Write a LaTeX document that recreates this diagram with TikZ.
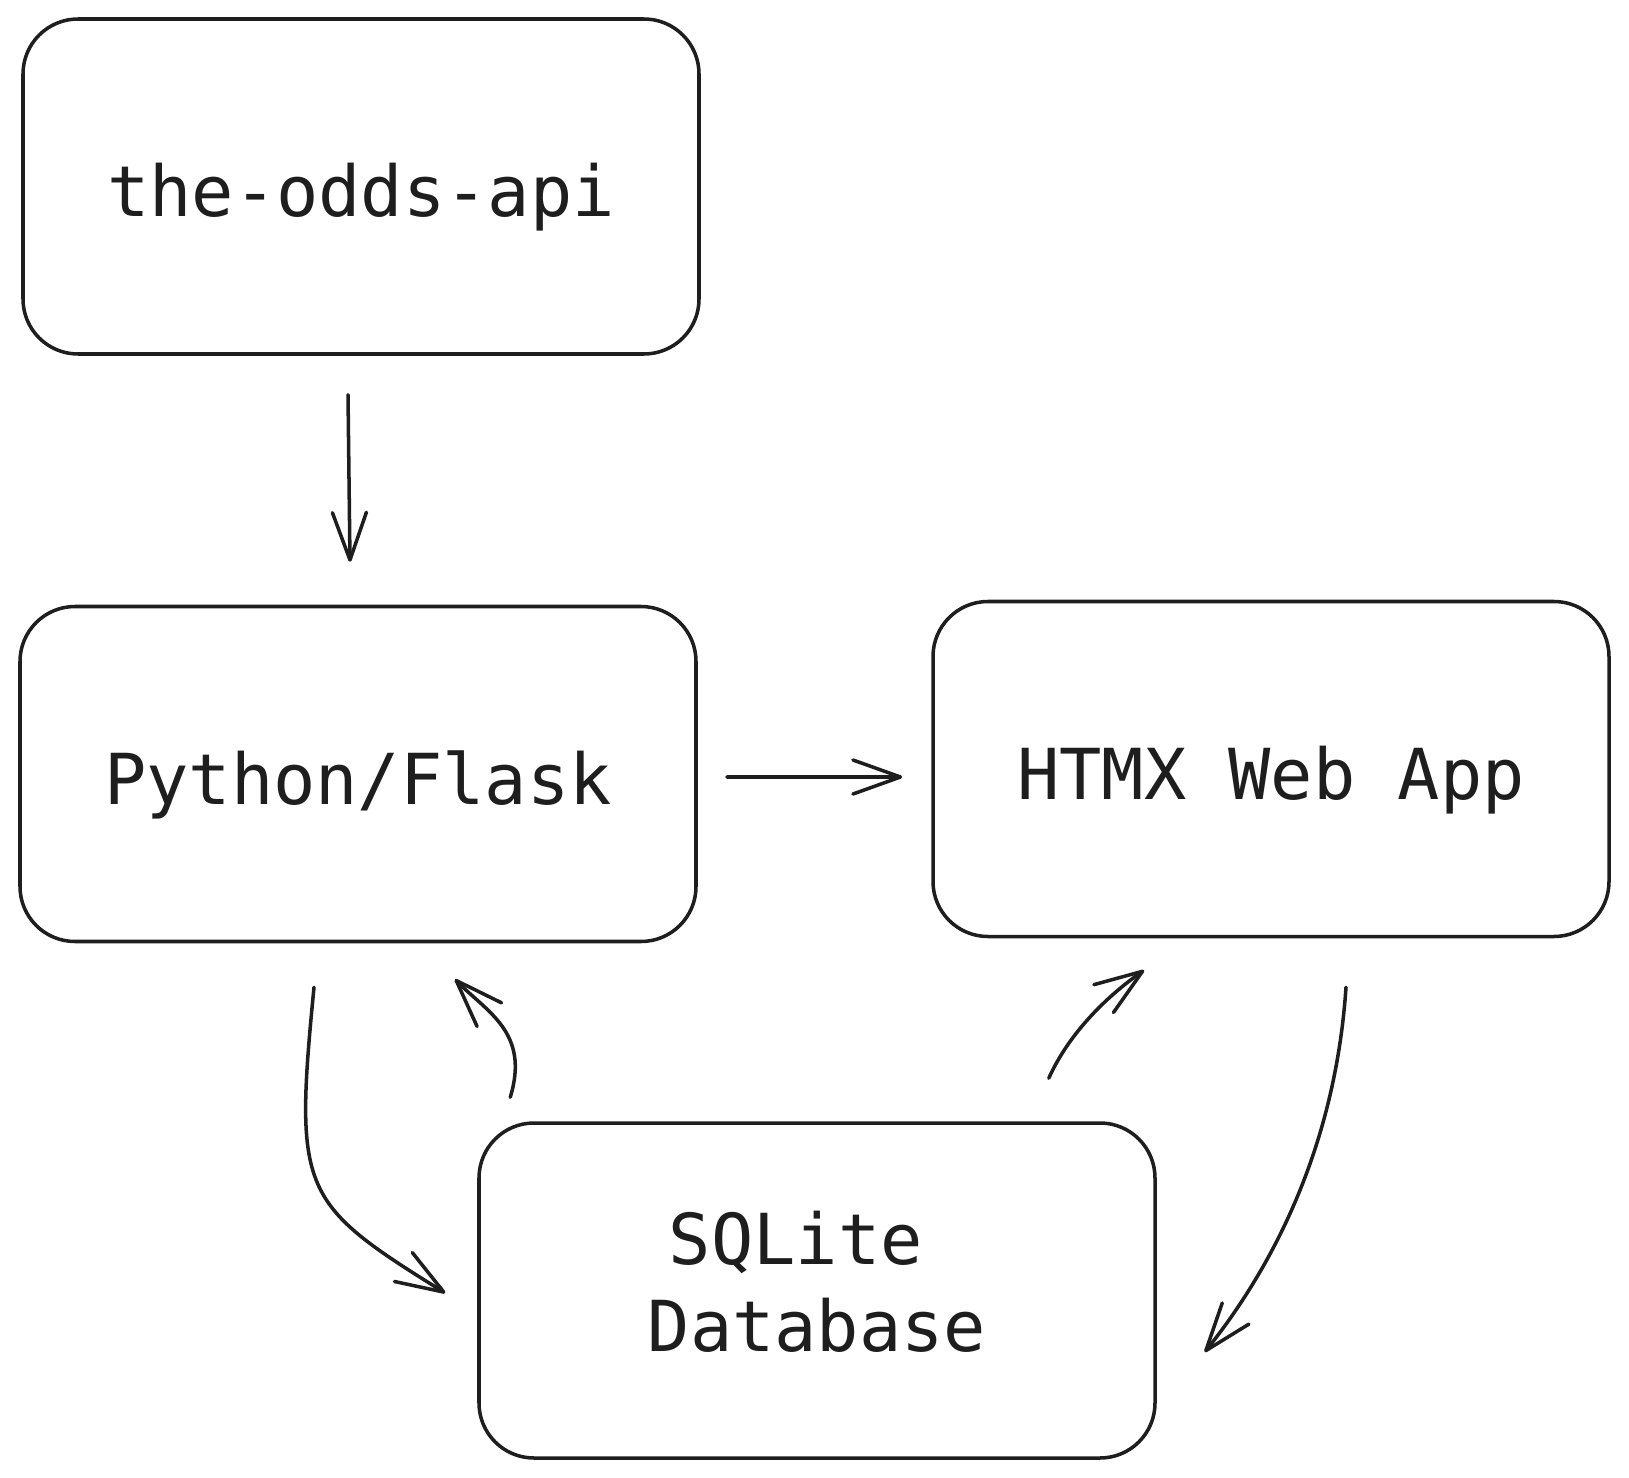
\documentclass[tikz,border=0pt]{standalone}
\usepackage{fontspec}
\setmonofont{DejaVu Sans Mono}
\usetikzlibrary{positioning, arrows.meta, calc}
\definecolor{ink}{HTML}{1E1E1E}

\begin{document}
\begin{tikzpicture}[
	box/.style={rectangle, draw=ink, line width=2pt, rounded corners=1.1cm, text=ink,
		minimum width=13.52cm, minimum height=6.7cm, inner sep=0pt,
		font=\ttfamily\fontsize{40}{49}\selectfont, text height=1.2cm, text depth=0cm},
	link/.style={draw=ink, line width=2pt, line cap=round,
		-{Straight Barb[length=0.95cm, width=0.68cm, round]}}
	]
	\useasboundingbox (0,0) rectangle (32.58,-29.56);
	
	%Nodes
	\node (oddsApi) at (7.22,-3.73) [box] {the-odds-api};
	
	\node (pythonFlask) at (7.16,-15.48) [box] {Python/Flask};
	
	\node (htmxApp) at (25.42,-15.38) [box] {HTMX Web App};
	
	\node (sqliteDb) at (16.34,-25.81) [box, align=center, text height=2.42cm] 
	{SQLite\hphantom{x}\\Database};
	
	%Links
	\draw [link] ($(oddsApi.south)+(-0.26,-0.78)$) -- ($(pythonFlask.north)+(-0.16,0.86)$);
	\draw [link] ($(pythonFlask.east)+(0.58,-0.06)$) -- ($(htmxApp.west)+(-0.58,-0.16)$);
	\draw [link] ($(pythonFlask.south)+(-0.88,-0.88)$) .. controls +(-0.4,-4.1) and +(-2.9,1.8) .. ($(sqliteDb.west)+(-0.64,-0.05)$);
	\draw [link] ($(sqliteDb.north west)+(0.66,0.48)$) .. controls +(0.4,1.3) and +(0.63,-0.65) .. ($(pythonFlask.south)+(1.94,-0.72)$);
	\draw [link] ($(sqliteDb.north east)+(-2.16,0.86)$) .. controls +(0.41,0.91) and +(-0.74,-0.52) .. ($(htmxApp.south)+(-2.54,-0.64)$);
	\draw [link] ($(htmxApp.south)+(1.5,-0.98)$) .. controls +(-0.23,-3.4) and +(1.2,1.5) .. ($(sqliteDb.east)+(0.96,-1.23)$);
	
\end{tikzpicture}
\end{document}
